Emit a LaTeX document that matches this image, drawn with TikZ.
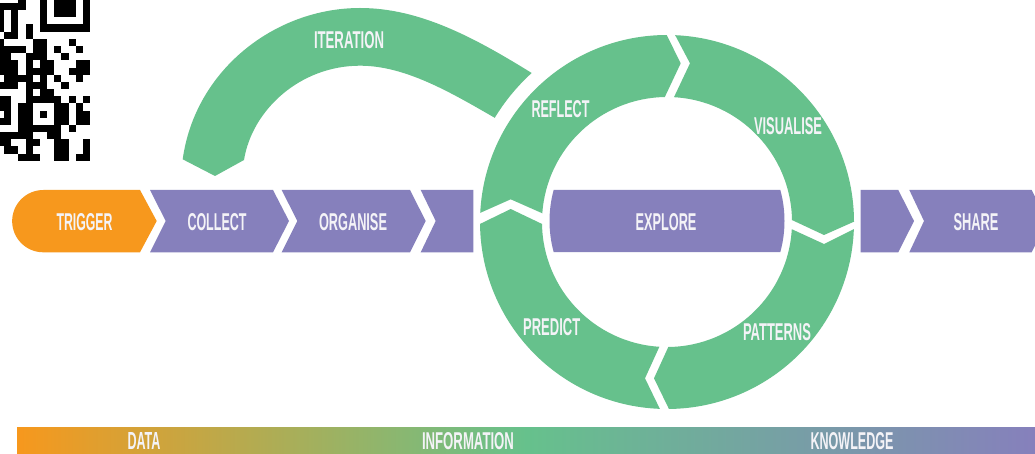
\documentclass[tikz,border=0pt]{standalone}
\usepackage{fontspec}
\usepackage{graphicx}
\setmainfont{Liberation Sans}
\usetikzlibrary{calc}
\definecolor{ringgreen}{RGB}{102,193,140}
\definecolor{stepviolet}{RGB}{134,128,188}
\definecolor{startorange}{RGB}{247,152,29}
\definecolor{labelwhite}{RGB}{244,243,247}
\newcommand{\lbl}[2]{\resizebox{#1pt}{17pt}{\bfseries #2}}
\tikzset{
  greenshape/.style={fill=ringgreen,draw=none},
  violetshape/.style={fill=stepviolet,draw=none},
  orangeshape/.style={fill=startorange,draw=none},
  lab/.style={text=labelwhite,inner sep=0pt,anchor=center}
}
\begin{document}
\begin{tikzpicture}[x=1pt,y=-1pt]
\clip (0,0) rectangle (1035,454);
\fill[white] (0,0) rectangle (1035,454);
\coordinate (c) at (667,222);
\coordinate (e) at (667,221);

% QR fragment
\begin{scope}
\clip (0,0) rectangle (90,160.7);
\foreach \r/\a/\b in {
  0/3/3,1/0/3,2/0/0,2/2/2,3/0/0,3/2/2,4/0/0,4/2/2,4/4/4,
  5/1/2,5/4/4,6/0/0,6/5/6,6/10/10,
  7/0/3,7/5/6,7/8/8,7/11/11,
  8/0/1,8/4/6,8/9/9,
  9/0/2,9/4/4,9/6/7,9/11/12,
  10/0/2,10/4/7,10/10/12,
  11/1/4,11/6/6,11/8/8,11/11/11,
  12/0/2,12/4/6,12/9/9,
  13/4/4,13/6/7,
  14/0/1,14/4/8,14/10/10,14/12/12,
  15/0/1,15/3/4,15/8/9,15/11/11,
  16/1/1,16/3/4,16/6/6,16/8/9,16/11/12,
  17/0/1,17/3/4,17/8/9,17/11/12,
  18/3/8,18/10/10,
  19/0/4,19/7/8,
  20/0/1,20/4/5,20/8/9,20/12/12,
  21/1/2,21/4/4,21/8/9,21/12/12,
  22/3/5,22/8/9,22/11/12}
  {\fill[black] ({4+7.167*(\a-1)},{3+7.167*(\r-1)}) rectangle ({4+7.167*\b+0.05},{3+7.167*\r+0.05});}
% finder pattern
\fill[black] (39.8,-1) rectangle (90,31.7);
\fill[white] (47,-1) rectangle (82.8,24.5);
\fill[black] (54.2,-1) rectangle (75.7,17.3);
\end{scope}

% process chevrons
\path[orangeshape] (43.3,190) -- (140,190) -- (156.7,221) -- (140,252.3) -- (43.3,252.3)
  arc[start angle=90,end angle=270,radius=31.15] -- cycle;
\path[violetshape] (150,190) -- (273,190) -- (289,221) -- (273,252.3) -- (150,252.3) -- (165.7,221) -- cycle;
\path[violetshape] (281.7,190) -- (410,190) -- (425.7,221) -- (410,252.3) -- (281.7,252.3) -- (297.3,221) -- cycle;
\path[violetshape] (420.7,190) -- (473.3,190) -- (473.3,252.3) -- (420.7,252.3) -- (435.7,221) -- cycle;
\path[violetshape] (860.7,190) -- (898.3,190) -- (914,221) -- (898.3,252.3) -- (860.7,252.3) -- cycle;
\path[violetshape] (909.3,190) -- (1031.7,190) -- (1047,221) -- (1031.7,252.3) -- (909.3,252.3) -- (924,221) -- cycle;

% explore
\path[violetshape] ($(e)+(-15.4:117.5)$) arc[start angle=-15.4,end angle=15.4,radius=117.5]
  -- ($(e)+(164.6:117.5)$) arc[start angle=164.6,end angle=195.4,radius=117.5] -- cycle;

% ring segments
\path[greenshape] ($(c)+(-177.2:187)$) arc[start angle=-177.2,end angle=-90.1,radius=187]
  -- (680.7,63.3) -- ($(c)+(-91:125)$) arc[start angle=-91,end angle=-176,radius=125]
  -- (510.7,199.3) -- cycle;
\path[greenshape] ($(c)+(-87.5:187)$) arc[start angle=-87.5,end angle=-0.1,radius=187]
  -- (824,235) -- ($(c)+(-0.9:125)$) arc[start angle=-0.9,end angle=-86.8,radius=125]
  -- (690,63.3) -- cycle;
\path[greenshape] ($(c)+(2.2:187)$) arc[start angle=2.2,end angle=89.4,radius=187]
  -- (654,378.3) -- ($(c)+(89.4:125)$) arc[start angle=89.4,end angle=3.3,radius=125]
  -- (824,244) -- cycle;
\path[greenshape] ($(c)+(92.2:187)$) arc[start angle=92.2,end angle=179.4,radius=187]
  -- (510.7,209) -- ($(c)+(179.1:125)$) arc[start angle=179.1,end angle=93.5,radius=125]
  -- (645,378.3) -- cycle;

% iteration arc
\path[greenshape] (182.7,159.3) .. controls (195,70) and (275,8) .. (360,8)
  .. controls (420,8) and (475,38) .. (531.7,73)
  arc[start angle=-132.2,end angle=-148.8,radius=201.2]
  .. controls (450,92) and (405,65.7) .. (360,65.7)
  .. controls (300,65.7) and (252,110) .. (244,160)
  -- (215,176) -- cycle;

% gradient bar
\shade[left color=startorange,right color=stepviolet,middle color=ringgreen] (17,427.5) rectangle (1035,454);

% labels
\node[lab] (trigger) at (84.5,222) {\lbl{56}{TRIGGER}};
\node[lab] (collect) at (217,222) {\lbl{59}{COLLECT}};
\node[lab] (organise) at (353,222) {\lbl{68}{ORGANISE}};
\node[lab] (explore) at (666,222) {\lbl{61}{EXPLORE}};
\node[lab] (share) at (976,222) {\lbl{45}{SHARE}};
\node[lab] (iteration) at (349,40.5) {\lbl{70}{ITERATION}};
\node[lab] (reflect) at (560.5,108.7) {\lbl{58}{REFLECT}};
\node[lab] (visualise) at (788,126) {\lbl{68}{VISUALISE}};
\node[lab] (patterns) at (777,332) {\lbl{68}{PATTERNS}};
\node[lab] (predict) at (551.7,326.7) {\lbl{57}{PREDICT}};
\node[lab] (data) at (144,441) {\lbl{33}{DATA}};
\node[lab] (information) at (468,441) {\lbl{92}{INFORMATION}};
\node[lab] (knowledge) at (852,441) {\lbl{83}{KNOWLEDGE}};
\end{tikzpicture}
\end{document}
